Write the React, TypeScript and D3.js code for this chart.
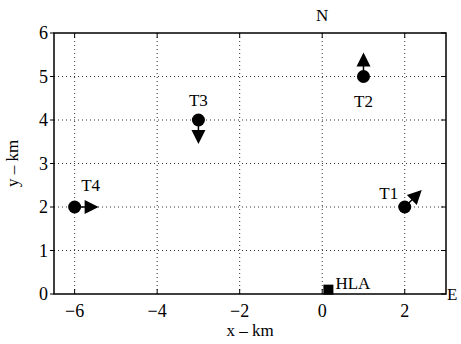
import { useMemo } from 'react';
import * as d3 from 'd3';

const names = ['T1', 'T2', 'T3', 'T4'];
const xs = [2, 1, -3, -6];
const ys = [2, 5, 4, 2];
// arrow direction in degrees, 0 = east, 90 = north
const headings = [45, 90, -90, 0];
const labelDx = [-16, 0, 0, 16];
const labelDy = [-8, 30, -14, -16];

const hlaX = 0.15;
const hlaY = 0.1;
const xTicks = [-6, -4, -2, 0, 2];
const yTicks = [0, 1, 2, 3, 4, 5, 6];

export default function App() {
  const width = 461;
  const height = 344;
  const margin = { top: 33, right: 15, bottom: 50, left: 54 };
  const innerWidth = width - margin.left - margin.right;
  const innerHeight = height - margin.top - margin.bottom;

  const x = useMemo(() => d3.scaleLinear().domain([-6.5, 3]).range([0, innerWidth]), [innerWidth]);
  const y = useMemo(() => d3.scaleLinear().domain([0, 6]).range([innerHeight, 0]), [innerHeight]);

  const font = 'Liberation Serif';
  // arrow head pointing along +x
  const head = 'M24,0L10,-7L10,7Z';

  return (
    <svg width={width} height={height} style={{ position: 'absolute', left: 0, top: 0 }}>
      <rect width={width} height={height} fill="#fff" />
      <g transform={`translate(${margin.left},${margin.top})`} fontFamily={font}>
        {xTicks.map((t) => (
          <line key={'gx' + t} x1={x(t)} x2={x(t)} y1={0} y2={innerHeight} stroke="#333" strokeWidth={1} strokeDasharray="1,3" />
        ))}
        {yTicks.slice(1, -1).map((t) => (
          <line key={'gy' + t} x1={0} x2={innerWidth} y1={y(t)} y2={y(t)} stroke="#333" strokeWidth={1} strokeDasharray="1,3" />
        ))}
        <rect x={0} y={0} width={innerWidth} height={innerHeight} fill="none" stroke="#000" strokeWidth={1.5} />
        {xTicks.map((t) => (
          <g key={'xt' + t}>
            <line x1={x(t)} x2={x(t)} y1={innerHeight} y2={innerHeight - 5} stroke="#000" />
            <line x1={x(t)} x2={x(t)} y1={0} y2={5} stroke="#000" />
            <text x={x(t)} y={innerHeight + 23} textAnchor="middle" fontSize={18}>
              {t < 0 ? '\u2212' + Math.abs(t) : t}
            </text>
          </g>
        ))}
        {yTicks.map((t) => (
          <g key={'yt' + t}>
            <line x1={0} x2={-4} y1={y(t)} y2={y(t)} stroke="#000" />
            <line x1={innerWidth} x2={innerWidth - 5} y1={y(t)} y2={y(t)} stroke="#000" />
            <text x={-6} y={y(t) + 6} textAnchor="end" fontSize={18}>
              {t}
            </text>
          </g>
        ))}
        <text x={x(0)} y={-12} textAnchor="middle" fontSize={17}>N</text>
        <text x={innerWidth + 1} y={innerHeight + 6} fontSize={17}>E</text>
        <text x={innerWidth / 2} y={innerHeight + 42} textAnchor="middle" fontSize={17}>x – km</text>
        <text transform={`translate(${-36},${innerHeight / 2}) rotate(-90)`} textAnchor="middle" fontSize={17}>
          y – km
        </text>

        <rect x={x(hlaX) - 5} y={y(hlaY) - 5} width={10} height={10} fill="#000" />
        <text x={x(hlaX) + 7} y={y(hlaY) - 1} fontSize={17}>HLA</text>

        {names.map((n, i) => {
          const cx = x(xs[i]);
          const cy = y(ys[i]);
          const rot = -headings[i];
          return (
            <g key={n}>
              <g transform={`translate(${cx},${cy}) rotate(${rot})`}>
                <line x1={0} y1={0} x2={11} y2={0} stroke="#000" strokeWidth={1.5} />
                <path d={head} fill="#000" />
              </g>
              <circle cx={cx} cy={cy} r={6.5} fill="#000" />
              <text x={cx + labelDx[i]} y={cy + labelDy[i]} textAnchor="middle" fontSize={17}>
                {n}
              </text>
            </g>
          );
        })}
      </g>
    </svg>
  );
}
